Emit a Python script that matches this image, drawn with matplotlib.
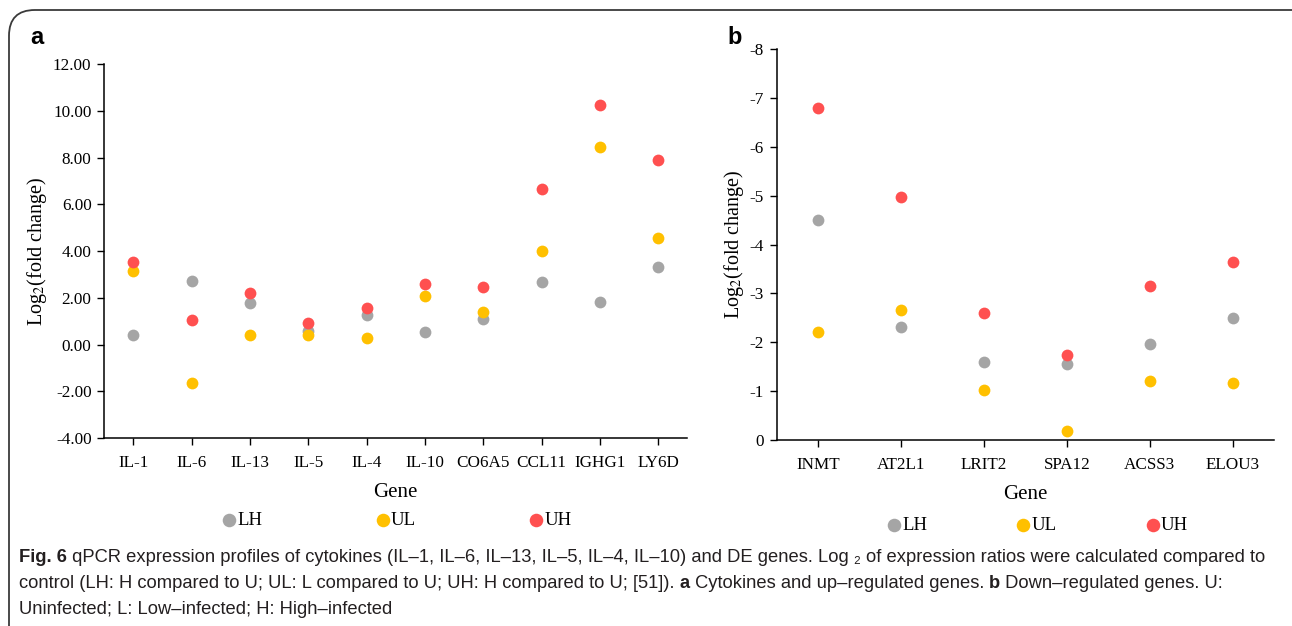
import matplotlib.pyplot as plt
from matplotlib.patches import FancyBboxPatch

plt.rcParams['axes.unicode_minus'] = False
plt.rcParams['mathtext.fontset'] = 'stix'

# panel a: cytokines and up-regulated genes
genes_a = ['IL-1', 'IL-6', 'IL-13', 'IL-5', 'IL-4', 'IL-10', 'CO6A5', 'CCL11', 'IGHG1', 'LY6D']
lh_a = [0.40, 2.74, 1.80, 0.57, 1.27, 0.52, 1.09, 2.68, 1.83, 3.33]
ul_a = [3.15, -1.65, 0.41, 0.39, 0.29, 2.08, 1.40, 3.99, 8.45, 4.57]
uh_a = [3.53, 1.06, 2.19, 0.93, 1.55, 2.58, 2.47, 6.66, 10.28, 7.89]

# panel b: down-regulated genes
genes_b = ['INMT', 'AT2L1', 'LRIT2', 'SPA12', 'ACSS3', 'ELOU3']
lh_b = [-4.51, -2.32, -1.59, -1.56, -1.97, -2.49]
ul_b = [-2.22, -2.67, -1.02, -0.19, -1.20, -1.16]
uh_b = [-6.80, -4.97, -2.61, -1.74, -3.15, -3.65]

series = ['LH', 'UL', 'UH']
colors = ['#A5A5A5', '#FFC000', '#FF5050']

serif = 'Liberation Serif'
cap_font = ['Liberation Sans', 'DejaVu Sans']

fig = plt.figure(figsize=(12.92, 6.26), dpi=100)

# rounded frame around the whole figure
frame = FancyBboxPatch((9 / 1292, -0.05), 1.2, 1.05 - 10 / 626,
                       boxstyle='round,pad=0,rounding_size=0.02',
                       transform=fig.transFigure, fill=False,
                       edgecolor='#3a3a3a', linewidth=1.3, mutation_aspect=2.06)
fig.patches.append(frame)

ax1 = fig.add_axes([0.0805, 0.3003, 0.4515, 0.5969])
ax2 = fig.add_axes([0.6011, 0.2971, 0.3850, 0.6243])


def style(ax, genes):
    for s in ['top', 'right']:
        ax.spines[s].set_visible(False)
    for s in ['left', 'bottom']:
        ax.spines[s].set_linewidth(1.1)
    ax.tick_params(direction='out', length=5, width=1, labelsize=12.3)
    ax.tick_params(axis='x', pad=7)
    ax.tick_params(axis='y', pad=4)
    ax.set_xticks(range(len(genes)))
    ax.set_xticklabels(genes, fontfamily=serif)
    ax.set_xlim(-0.5, len(genes) - 0.5)
    for lbl in ax.get_yticklabels():
        lbl.set_fontfamily(serif)
    ax.set_xlabel('Gene', fontfamily=serif, fontsize=15, labelpad=9)
    ax.set_ylabel('Log$_2$(fold change)', fontfamily=serif, fontsize=14.5, labelpad=3)


x_a = range(len(genes_a))
for vals, name, c in zip([lh_a, ul_a, uh_a], series, colors):
    ax1.scatter(x_a, vals, s=72, color=c, label=name, zorder=3, linewidths=0)
ax1.set_ylim(-4, 12)
ax1.set_yticks(range(-4, 13, 2))
ax1.set_yticklabels(['%.2f' % v for v in range(-4, 13, 2)])
style(ax1, genes_a)

x_b = range(len(genes_b))
for vals, name, c in zip([lh_b, ul_b, uh_b], series, colors):
    ax2.scatter(x_b, vals, s=72, color=c, label=name, zorder=3, linewidths=0)
ax2.set_ylim(0, -8)
ax2.set_yticks(range(0, -9, -1))
ax2.set_yticklabels([str(v) for v in range(0, -9, -1)])
style(ax2, genes_b)

leg_kw = dict(loc='center', bbox_transform=fig.transFigure, ncol=3, frameon=False,
              handletextpad=0.05, handlelength=0.8, borderpad=0, markerscale=1.15,
              prop={'family': serif, 'size': 13.5})
ax1.legend(bbox_to_anchor=(0.307, 0.169), columnspacing=6.0, **leg_kw)
ax2.legend(bbox_to_anchor=(0.803, 0.161), columnspacing=4.7, **leg_kw)

fig.text(30 / 1292, 1 - 38 / 626, 'a', fontsize=17, fontweight='bold', va='center',
         fontfamily='Liberation Sans')
fig.text(727 / 1292, 1 - 38 / 626, 'b', fontsize=17, fontweight='bold', va='center',
         fontfamily='Liberation Sans')

# caption, pieces chained so bold parts sit inline
cap_size = 13.2


def chain(pieces, y):
    prev = None
    for txt, bold in pieces:
        kw = dict(fontsize=cap_size, fontfamily=cap_font, color='#231f20',
                  fontweight='bold' if bold else 'normal', ha='left', va='bottom')
        if prev is None:
            prev = fig.text(19 / 1292, y, txt, **kw)
        else:
            prev = ax1.annotate(txt, xy=(1, 0), xycoords=prev, annotation_clip=False, **kw)


chain([('Fig. 6', True),
       (' qPCR expression profiles of cytokines (IL\u20131, IL\u20136, IL\u201313, IL\u20135, '
        'IL\u20134, IL\u201310) and DE genes. Log \u2082 of expression ratios were calculated compared to', False)],
      1 - 566 / 626)
chain([('control (LH: H compared to U; UL: L compared to U; UH: H compared to U; [51]). ', False),
       ('a', True),
       (' Cytokines and up\u2013regulated genes. ', False),
       ('b', True),
       (' Down\u2013regulated genes. U:', False)],
      1 - 592 / 626)
chain([('Uninfected; L: Low\u2013infected; H: High\u2013infected', False)], 1 - 618 / 626)

fig.savefig('out.png', dpi=100)
